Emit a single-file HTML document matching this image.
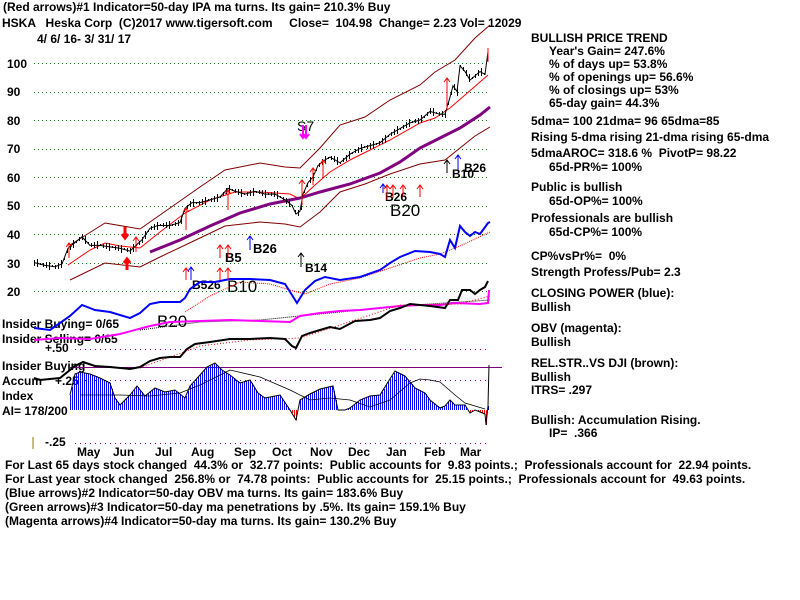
<!DOCTYPE html>
<html><head><meta charset="utf-8"><style>
body{margin:0;background:#fff;}
svg{display:block;font-family:"Liberation Sans",Arial,sans-serif;font-weight:bold;}
text{white-space:pre;}
</style></head><body>
<svg id="s" width="800" height="600" viewBox="0 0 800 600" xmlns="http://www.w3.org/2000/svg" xml:space="preserve">
<g font-size="12" fill="#000">
<text x="3" y="11">(Red arrows)#1 Indicator=50-day IPA ma turns. Its gain= 210.3% Buy</text>
<text x="2" y="27">HSKA   Heska Corp  (C)2017 www.tigersoft.com     Close=  104.98  Change= 2.23 Vol= 12029</text>
<text x="37" y="43">4/ 6/ 16- 3/ 31/ 17</text>
<text x="7" y="68">100</text><text x="7" y="96">90</text><text x="7" y="125">80</text>
<text x="7" y="153">70</text><text x="7" y="182">60</text><text x="7" y="210">50</text>
<text x="7" y="239">40</text><text x="7" y="268">30</text><text x="7" y="296">20</text>
<text x="531" y="42">BULLISH PRICE TREND</text>
<text x="549" y="55">Year's Gain= 247.6%</text>
<text x="549" y="68">% of days up= 53.8%</text>
<text x="549" y="81">% of openings up= 56.6%</text>
<text x="549" y="94">% of closings up= 53%</text>
<text x="549" y="107">65-day gain= 44.3%</text>
<text x="531" y="125">5dma= 100 21dma= 96 65dma=85</text>
<text x="531" y="141">Rising 5-dma rising 21-dma rising 65-dma</text>
<text x="531" y="157">5dmaAROC= 318.6 %  PivotP= 98.22</text>
<text x="549" y="171">65d-PR%= 100%</text>
<text x="531" y="191">Public is bullish</text>
<text x="549" y="205">65d-OP%= 100%</text>
<text x="531" y="222">Professionals are bullish</text>
<text x="549" y="236">65d-CP%= 100%</text>
<text x="531" y="260">CP%vsPr%=  0%</text>
<text x="531" y="276">Strength Profess/Pub= 2.3</text>
<text x="531" y="297">CLOSING POWER (blue):</text>
<text x="531" y="311">Bullish</text>
<text x="531" y="332">OBV (magenta):</text>
<text x="531" y="346">Bullish</text>
<text x="531" y="367">REL.STR..VS DJI (brown):</text>
<text x="531" y="381">Bullish</text>
<text x="531" y="394">ITRS= .297</text>
<text x="531" y="424">Bullish: Accumulation Rising.</text>
<text x="549" y="437">IP=  .366</text>
<text x="2" y="328">Insider Buying= 0/65</text>
<text x="2" y="343">Insider Selling= 0/65</text>
<text x="45" y="352">+.50</text>
<text x="2" y="370">Insider Buying</text>
<text x="2" y="385">Accum</text><text x="55" y="385">+.25</text>
<text x="2" y="400">Index</text>
<text x="2" y="415">AI= 178/200</text>
<text x="45" y="446">-.25</text>
<text x="77" y="456">May</text><text x="113" y="456">Jun</text><text x="155" y="456">Jul</text>
<text x="191" y="456">Aug</text><text x="234" y="456">Sep</text><text x="272" y="456">Oct</text>
<text x="310" y="456">Nov</text><text x="348" y="456">Dec</text><text x="386" y="456">Jan</text>
<text x="424" y="456">Feb</text><text x="460" y="456">Mar</text>
<text x="5" y="469">For Last 65 days stock changed  44.3% or  32.77 points:  Public accounts for  9.83 points.;  Professionals account for  22.94 points.</text>
<text x="5" y="483">For Last year stock changed  256.8% or  74.78 points:  Public accounts for  25.15 points.;  Professionals account for  49.63 points.</text>
<text x="5" y="497">(Blue arrows)#2 Indicator=50-day OBV ma turns. Its gain= 183.6% Buy</text>
<text x="5" y="511">(Green arrows)#3 Indicator=50-day ma penetrations by .5%. Its gain= 159.1% Buy</text>
<text x="5" y="525">(Magenta arrows)#4 Indicator=50-day ma turns. Its gain= 130.2% Buy</text>
</g>
<g font-size="14" font-weight="normal">
<text x="297" y="131">S7</text>
<text x="390" y="216" font-size="17">B20</text>
<text x="385" y="201" font-size="12" font-weight="bold">B26</text>
<text x="253" y="253" font-size="13" font-weight="bold">B26</text>
<text x="225" y="262" font-size="13" font-weight="bold">B5</text>
<text x="227" y="292" font-size="17">B10</text>
<text x="192" y="289" font-size="12" font-weight="bold">B526</text>
<text x="157" y="327" font-size="17">B20</text>
<text x="305" y="272" font-size="12" font-weight="bold">B14</text>
<text x="452" y="178" font-size="12" font-weight="bold">B10</text>
<text x="464" y="172" font-size="12" font-weight="bold">B26</text>
</g>
<line x1="33" y1="437" x2="33" y2="449" stroke="#8a7a00"/>
<g id="g"></g>
</svg>
<script>
var g=document.getElementById('g'),NS='http://www.w3.org/2000/svg';
function el(t,a){var e=document.createElementNS(NS,t);for(var k in a)e.setAttribute(k,a[k]);g.appendChild(e);return e;}
function pl(p,c,w,d){el('polyline',{points:p.map(function(q){return q.join(',')}).join(' '),fill:'none',stroke:c,'stroke-width':w||1,'stroke-dasharray':d||''});}
for(var v=20;v<=100;v+=10){var y=Math.round(63+(100-v)*2.85)+0.5;el('line',{x1:34,x2:490,y1:y,y2:y,stroke:'#008000','stroke-dasharray':'1,3','shape-rendering':'crispEdges'});}
[349,380,443].forEach(function(y){el('line',{x1:75,x2:490,y1:y+0.5,y2:y+0.5,stroke:'#800080','stroke-dasharray':'1,4','shape-rendering':'crispEdges'});});
el('line',{x1:70,x2:502,y1:367.5,y2:367.5,stroke:'#800080','shape-rendering':'crispEdges'});
var A=[[70,395],[75,374],[80,372],[90,374],[100,378],[110,383],[115,398],[120,405],[130,395],[137,386],[145,396],[155,388],[165,392],[175,390],[185,398],[190,386],[200,375],[207,367],[215,363],[222,370],[230,375],[240,383],[250,380],[258,393],[265,398],[280,395],[290,410],[296,420],[300,400],[310,394],[320,389],[333,386],[338,410],[345,410],[350,408],[360,400],[370,396],[380,395],[388,382],[395,371],[405,376],[415,388],[425,393],[430,400],[440,408],[445,406],[450,400],[455,405],[465,405],[470,413],[475,410],[485,414],[486,425],[488,406],[489,365]];
function interp(P,x){for(var i=1;i<P.length;i++)if(x<=P[i][0]){var a=P[i-1],b=P[i],t=(x-a[0])/(b[0]-a[0]||1);return a[1]+t*(b[1]-a[1]);}return P[P.length-1][1];}
for(var x=70;x<=489;x+=2){var y=Math.round(interp(A,x));el('line',{x1:x+0.5,x2:x+0.5,y1:410,y2:y,stroke:y<410?'#0000ff':'#ff0000','shape-rendering':'crispEdges'});}
pl(A,'#000',1);
pl([[80,395],[120,395],[150,396],[180,393],[200,385],[230,370],[260,377],[290,390],[310,400],[330,398],[350,400],[370,407],[390,400],[410,383],[420,379],[430,380],[440,382],[455,395],[465,403],[485,409]],'#000',0.8);
pl([[70,245],[105,223],[140,229],[160,215],[200,187],[225,170],[260,163],[285,167],[300,168],[320,148],[340,125],[365,117],[390,100],[420,85],[435,72],[455,60],[475,38],[490,25]],'#800000',1);
pl([[70,280],[105,263],[140,267],[160,257],[200,238],[225,226],[260,222],[285,224],[300,227],[320,212],[340,192],[365,184],[390,174],[420,164],[445,160],[460,148],[475,136],[490,127]],'#800000',1);
pl([[68,265],[90,250],[105,243],[120,246],[140,248],[160,232],[185,213],[210,200],[235,192],[260,192],[290,194],[300,199],[315,185],[330,172],[350,160],[370,150],[390,140],[420,123],[435,118],[450,108],[465,95],[488,75]],'#ff0000',1);
pl([[150,252],[180,240],[210,226],[240,213],[270,204],[300,198],[320,192],[350,184],[380,173],[400,162],[420,148],[440,138],[460,128],[480,115],[490,107]],'#800080',3);
var P=[[34,30],[45,29],[55,28.5],[62,29.5],[68,35],[75,37],[82,39],[90,36],[100,36],[110,35.5],[120,35],[130,34],[136,36],[142,38],[150,42],[158,43],[170,43],[180,44],[185,49],[192,51],[200,51],[210,52],[220,53],[228,56],[235,55],[245,54],[255,55],[265,54],[275,54],[285,52],[292,50],[296,47],[300,48],[303,54],[308,58],[313,60],[318,64],[325,66],[330,67],[340,65],[350,68],[360,70],[370,71],[380,72],[390,75],[400,77],[410,79],[420,80],[430,83],[440,82],[445,82],[450,88],[453,92],[457,90],[460,99],[465,97],[470,94],[480,97],[485,96],[488,104]];
var PP=P.map(function(q){return [q[0],63+(100-q[1])*2.85];});
for(var x=34;x<=488;x+=3){var y=Math.round(interp(PP,x)),h=1+((x*7)%4);el('line',{x1:x+0.5,x2:x+0.5,y1:y-h,y2:y+h,stroke:'#000','shape-rendering':'crispEdges'});}
pl(PP,'#000',1);
pl([[185,312],[210,296],[240,282],[270,284],[290,290],[305,294],[330,284],[360,278],[390,268],[420,258],[440,254],[460,246],[490,232]],'#ff0000',1,'1,1');
pl([[34,328],[50,330],[70,316],[82,305],[95,310],[110,312],[130,318],[140,313],[150,304],[160,302],[180,302],[185,298],[190,289],[200,282],[215,282],[230,279],[250,279],[270,280],[285,284],[292,295],[297,303],[305,290],[315,281],[325,277],[340,280],[360,277],[380,270],[390,263],[400,257],[415,251],[430,252],[440,254],[445,257],[450,240],[455,248],[460,226],[465,232],[470,236],[475,232],[480,234],[488,223],[490,222]],'#0000ff',2);
pl([[140,330],[200,322],[260,320],[320,314],[400,306],[490,300]],'#000',1,'1,1');
pl([[34,340],[60,338],[90,339],[120,334],[150,326],[170,322],[200,321],[230,320],[260,321],[290,322],[300,316],[320,313],[340,311],[360,310],[380,308],[400,306],[420,305],[440,305],[455,303],[480,304],[488,303],[489,290]],'#ff00ff',2);
pl([[140,368],[200,346],[250,340],[300,338],[340,325],[400,305],[460,304],[490,296]],'#ff0000',1,'1,2');
pl([[34,378],[40,380],[60,378],[75,366],[83,362],[95,366],[110,367],[130,369],[140,367],[150,361],[160,358],[170,357],[180,357],[187,349],[195,344],[210,342],[230,339],[250,339],[270,338],[285,339],[292,346],[296,348],[302,336],[310,333],[320,330],[330,327],[340,329],[355,321],[370,320],[380,318],[390,311],[400,308],[410,304],[430,306],[445,308],[450,300],[458,300],[462,290],[470,290],[475,294],[480,290],[485,287],[488,281]],'#000',2);
function ar(x,y1,y2,c,w){el('line',{x1:x,x2:x,y1:y1,y2:y2,stroke:c,'stroke-width':w||1});var d=y2<y1?4:-4;el('polyline',{points:(x-3)+','+(y2+d)+' '+x+','+y2+' '+(x+3)+','+(y2+d),fill:'none',stroke:c,'stroke-width':w||1});}
[[69,258,243],[186,230,208],[228,210,190],[302,205,180],[313,185,168],[323,178,160],[447,110,78],[136,252,237],[220,258,245],[228,258,245]].forEach(function(a){ar(a[0],a[1],a[2],'#ff0000');});
[[186,280,268],[220,280,268],[228,280,268],[387,200,185],[393,198,185],[403,197,185],[420,197,185]].forEach(function(a){ar(a[0],a[1],a[2],'#ff0000');});
ar(191,280,267,'#0000ff');ar(250,250,236,'#0000ff');ar(383,193,184,'#0000ff');ar(458,170,155,'#0000ff');
ar(301,267,253,'#000');ar(447,173,160,'#000');
ar(125,227,238,'#ff0000',3);ar(127,270,259,'#ff0000',3);
ar(303,125,138,'#ff00ff',2);ar(306,125,138,'#ff00ff',2);
el('line',{x1:488,x2:488,y1:48,y2:62,stroke:'#ff0000'});
</script>
</body></html>
